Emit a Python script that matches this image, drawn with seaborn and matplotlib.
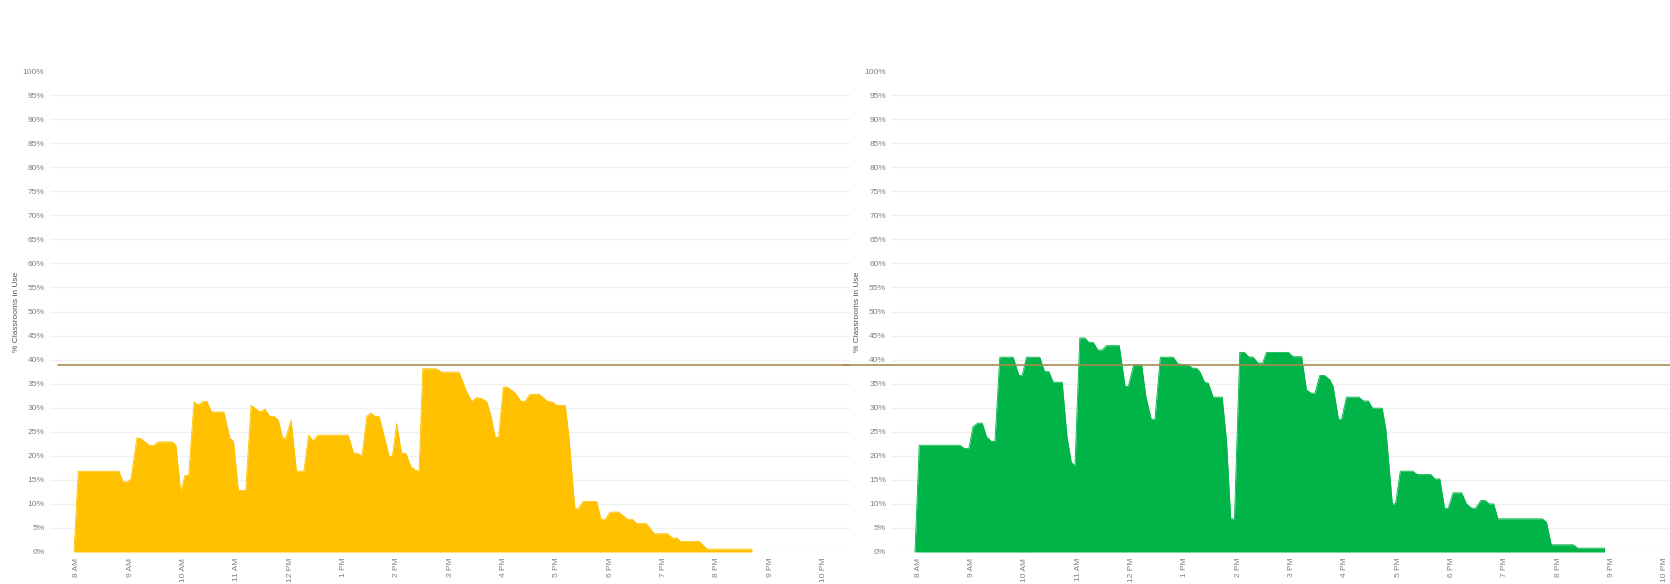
import matplotlib
matplotlib.use("Agg")
import matplotlib.pyplot as plt
import seaborn as sns

# === data (hours of day, % classrooms in use) ===
left_hours = [7.95, 8.03, 8.79, 8.87, 8.96, 9.02, 9.13, 9.2, 9.36, 9.45, 9.53, 9.79, 9.86, 9.95,
              10.03, 10.1, 10.2, 10.28, 10.38, 10.44, 10.53, 10.76, 10.87, 10.94, 11.03, 11.17,
              11.27, 11.44, 11.53, 11.62, 11.7, 11.78, 11.86, 11.92, 12.02, 12.12, 12.26, 12.35,
              12.43, 12.52, 13.09, 13.19, 13.27, 13.35, 13.44, 13.52, 13.59, 13.67, 13.86, 13.92,
              14.0, 14.09, 14.17, 14.27, 14.35, 14.42, 14.49, 14.74, 14.84, 15.17, 15.3, 15.41,
              15.5, 15.6, 15.69, 15.77, 15.85, 15.91, 16.0, 16.07, 16.22, 16.33, 16.4, 16.5,
              16.67, 16.83, 16.92, 17.0, 17.16, 17.23, 17.34, 17.4, 17.5, 17.75, 17.83, 17.91,
              18.0, 18.16, 18.33, 18.42, 18.5, 18.68, 18.83, 19.08, 19.17, 19.26, 19.32, 19.67,
              19.82, 20.66, 20.66]
left_pct = [0, 16.8, 16.8, 14.6, 14.6, 15.3, 23.7, 23.6, 22.2, 22.2, 22.9, 22.9, 22.2, 12.5,
            15.9, 15.9, 31.2, 30.6, 31.3, 31.3, 29.1, 29.1, 23.7, 23.0, 12.8, 12.8,
            30.5, 29.1, 29.7, 28.2, 28.2, 27.4, 23.7, 23.7, 27.4, 16.8, 16.8, 24.3,
            23.1, 24.3, 24.3, 20.6, 20.5, 19.9, 28.2, 28.9, 28.2, 28.2, 19.9, 19.9,
            26.7, 20.6, 20.5, 17.7, 17.0, 16.8, 38.1, 38.1, 37.4, 37.4, 33.6, 31.3,
            32.1, 31.9, 31.2, 28.2, 23.8, 23.8, 34.3, 34.3, 33.1, 31.3, 31.3, 32.8,
            32.8, 31.3, 31.2, 30.5, 30.5, 23.9, 9.0, 9.0, 10.5, 10.5, 6.8, 6.8,
            8.3, 8.3, 6.8, 6.8, 5.9, 5.9, 3.8, 3.8, 2.9, 2.9, 2.2, 2.2,
            0.6, 0.6, 0]

right_hours = [7.94, 8.02, 8.78, 8.87, 8.95, 9.03, 9.12, 9.2, 9.28, 9.37, 9.44, 9.53, 9.78, 9.89,
               9.95, 10.03, 10.28, 10.37, 10.45, 10.53, 10.7, 10.79, 10.87, 10.94, 11.03, 11.12,
               11.2, 11.28, 11.37, 11.45, 11.53, 11.77, 11.88, 11.94, 12.04, 12.19, 12.27, 12.37,
               12.44, 12.54, 12.78, 12.87, 13.06, 13.15, 13.22, 13.28, 13.37, 13.44, 13.53, 13.7,
               13.78, 13.86, 13.93, 14.03, 14.12, 14.19, 14.28, 14.37, 14.46, 14.53, 14.94, 15.03,
               15.19, 15.28, 15.37, 15.44, 15.53, 15.62, 15.72, 15.78, 15.88, 15.94, 16.03, 16.26,
               16.35, 16.44, 16.52, 16.7, 16.77, 16.89, 16.95, 17.04, 17.27, 17.36, 17.61, 17.69,
               17.78, 17.87, 17.94, 18.03, 18.19, 18.28, 18.38, 18.45, 18.55, 18.63, 18.71, 18.79,
               18.87, 19.7, 19.78, 19.87, 20.28, 20.37, 20.87, 20.87]
right_pct = [0, 22.2, 22.2, 21.5, 21.5, 26.1, 26.8, 26.8, 24.0, 23.0, 23.0, 40.5, 40.5, 36.7,
             36.7, 40.5, 40.5, 37.5, 37.5, 35.3, 35.3, 24.0, 18.7, 17.9, 44.5, 44.5,
             43.6, 43.6, 42.0, 42.0, 42.9, 42.9, 34.4, 34.4, 38.9, 38.9, 32.3, 27.6,
             27.6, 40.5, 40.5, 39.1, 38.9, 38.2, 38.2, 37.5, 35.3, 35.1, 32.2, 32.2,
             23.3, 6.9, 6.9, 41.5, 41.5, 40.6, 40.5, 39.3, 39.3, 41.5, 41.5, 40.6,
             40.6, 33.7, 33.0, 33.0, 36.7, 36.7, 35.8, 34.4, 27.6, 27.6, 32.2, 32.2,
             31.4, 31.4, 29.9, 29.9, 25.4, 10.0, 10.0, 16.8, 16.8, 16.1, 16.1, 15.2,
             15.2, 9.1, 9.1, 12.3, 12.3, 10.0, 9.1, 9.1, 10.7, 10.7, 10.0, 10.0,
             6.9, 6.9, 6.2, 1.5, 1.5, 0.8, 0.8, 0]

reference_pct = 38.9
tick_hours = list(range(8, 23))
tick_labels = ["8 AM", "9 AM", "10 AM", "11 AM", "12 PM", "1 PM", "2 PM", "3 PM",
               "4 PM", "5 PM", "6 PM", "7 PM", "8 PM", "9 PM", "10 PM"]
y_ticks = list(range(0, 101, 5))

sns.set_theme(style="white")
plt.rcParams['font.family'] = ['Liberation Sans', 'DejaVu Sans']

fig = plt.figure(figsize=(16.7, 5.84), dpi=100)
ax1 = fig.add_axes([50 / 1670, 32 / 584, 800 / 1670, 481 / 584])
ax2 = fig.add_axes([891.5 / 1670, 32 / 584, 800 / 1670, 481 / 584])
ax2.patch.set_alpha(0)

panels = [(ax1, left_hours, left_pct, "#FFC000"),
          (ax2, right_hours, right_pct, "#00B447")]

for ax, hrs, pct, col in panels:
    for v in y_ticks[:-1]:
        ax.axhline(v, color="#f1f1f1", lw=0.9, zorder=0)
    sns.lineplot(x=hrs, y=pct, ax=ax, color=col, lw=0.6, estimator=None, sort=False)
    ax.fill_between(hrs, pct, 0, color=col, lw=0, zorder=2)
    ax.set_xlim(7.5, 22.5)
    ax.set_ylim(0, 100)
    ax.set_yticks(y_ticks)
    ax.set_yticklabels([f"{v}%" for v in y_ticks])
    ax.set_xticks(tick_hours)
    ax.set_xticklabels(tick_labels, rotation=90)
    ax.tick_params(axis="both", length=0, labelsize=6, labelcolor="#808080")
    ax.tick_params(axis="y", pad=4)
    ax.tick_params(axis="x", pad=4)
    ax.set_xlabel("")
    ax.set_ylabel("% Classrooms in Use", fontsize=6, color="#555555")
    ax.yaxis.set_label_coords(-0.038, 0.5)
    sns.despine(ax=ax, left=True, bottom=True)

# reference line runs across both panels
ax1.axhline(reference_pct, xmin=0.01, xmax=1.0, color="#A68C52", lw=1.2, zorder=5)
ax2.axhline(reference_pct, xmin=-0.06, xmax=1.0, color="#A68C52", lw=1.2, zorder=5, clip_on=False)

fig.savefig("out.png", dpi=100)
